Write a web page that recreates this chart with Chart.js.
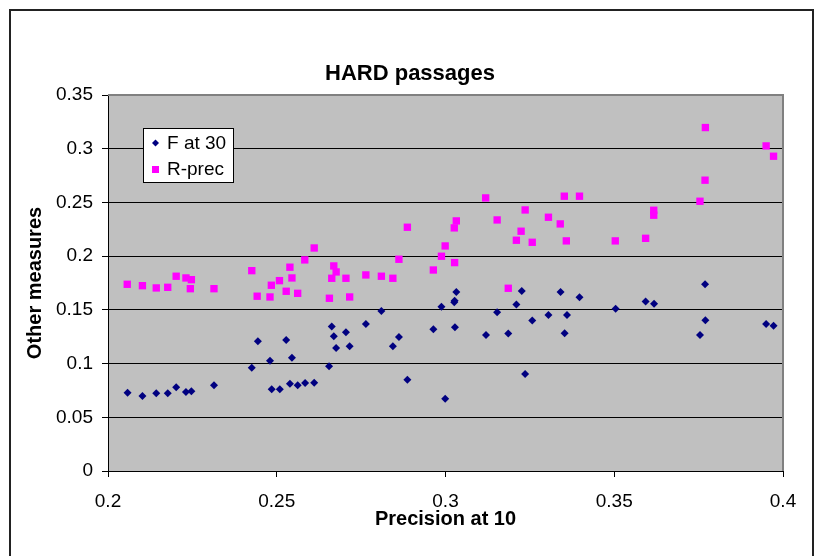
<!DOCTYPE html>
<html>
<head>
<meta charset="utf-8">
<script src="https://cdn.jsdelivr.net/npm/chart.js@4/dist/chart.umd.min.js"></script>
<style>
  html, body { margin: 0; padding: 0; background: #fff; }
  #wrap { width: 814px; height: 556px; }
</style>
</head>
<body>
<div id="wrap"><canvas id="chart" width="814" height="556"></canvas></div>
<script>
// F at 30 (x = precision at 10, y = value)
const fX = [0.2058, 0.2102, 0.2143, 0.2177, 0.2202, 0.2231, 0.2247, 0.2314, 0.2426, 0.2444,
            0.2480, 0.2485, 0.2509, 0.2528, 0.2545, 0.2539, 0.2562, 0.2584, 0.2611, 0.2655,
            0.2663, 0.2669, 0.2676, 0.2705, 0.2716, 0.2764, 0.2810, 0.2844, 0.2862, 0.2887,
            0.2964, 0.2988, 0.2999, 0.3026, 0.3027, 0.3032, 0.3028, 0.3120, 0.3153, 0.3186,
            0.3210, 0.3226, 0.3236, 0.3257, 0.3305, 0.3341, 0.3353, 0.3360, 0.3397, 0.3504,
            0.3593, 0.3618, 0.3754, 0.3770, 0.3769, 0.3950, 0.3972];
const fY = [0.0729, 0.0698, 0.0723, 0.0723, 0.0779, 0.0736, 0.0742, 0.0798, 0.0962, 0.1207,
            0.1027, 0.0760, 0.0760, 0.1220, 0.1055, 0.0813, 0.0798, 0.0819, 0.0822, 0.0975,
            0.1344, 0.1254, 0.1145, 0.1291, 0.1161, 0.1369, 0.1490, 0.1161, 0.1248, 0.0850,
            0.1319, 0.1530, 0.0673, 0.1571, 0.1585, 0.1667, 0.1338, 0.1266, 0.1477, 0.1279,
            0.1549, 0.1676, 0.0903, 0.1400, 0.1453, 0.1667, 0.1282, 0.1453, 0.1617, 0.1511,
            0.1577, 0.1558, 0.1266, 0.1403, 0.1738, 0.1369, 0.1353];

// R-prec
const rX = [0.2057, 0.2102, 0.2143, 0.2177, 0.2202, 0.2231, 0.2247, 0.2244, 0.2314, 0.2426,
            0.2442, 0.2480, 0.2484, 0.2508, 0.2528, 0.2539, 0.2545, 0.2562, 0.2583, 0.2611,
            0.2656, 0.2663, 0.2669, 0.2676, 0.2705, 0.2716, 0.2764, 0.2810, 0.2844, 0.2862,
            0.2887, 0.2964, 0.2988, 0.2999, 0.3027, 0.3026, 0.3032, 0.3119, 0.3153, 0.3186,
            0.3210, 0.3224, 0.3236, 0.3257, 0.3305, 0.3340, 0.3352, 0.3358, 0.3397, 0.3503,
            0.3593, 0.3617, 0.3617, 0.3754, 0.3769, 0.3770, 0.3950, 0.3972];
const rY = [0.1738, 0.1725, 0.1704, 0.1710, 0.1813, 0.1797, 0.1781, 0.1697, 0.1697, 0.1865,
            0.1627, 0.1620, 0.1729, 0.1772, 0.1673, 0.1897, 0.1797, 0.1654, 0.1965, 0.2076,
            0.1608, 0.1794, 0.1909, 0.1853, 0.1794, 0.1620, 0.1825, 0.1813, 0.1794, 0.1971,
            0.2269, 0.1871, 0.1999, 0.2095, 0.1940, 0.2263, 0.2328, 0.2542, 0.2337, 0.1701,
            0.2148, 0.2232, 0.2430, 0.2129, 0.2362, 0.2300, 0.2558, 0.2142, 0.2558, 0.2142,
            0.2166, 0.2427, 0.2381, 0.2511, 0.2707, 0.3197, 0.3026, 0.2930];

const xTicks = [0.2, 0.25, 0.3, 0.35, 0.4];
const yTicks = [0, 0.05, 0.1, 0.15, 0.2, 0.25, 0.3, 0.35];

const FONT = '"Liberation Sans", Arial, sans-serif';

// fond gris, cadre, titres et légende façon Excel
const excelLook = {
    id: 'excelLook',
    beforeDraw(chart) {
        const ctx = chart.ctx, a = chart.chartArea;
        ctx.save();
        ctx.fillStyle = '#fff';
        ctx.fillRect(0, 0, chart.width, chart.height);
        ctx.fillStyle = '#c0c0c0';
        ctx.fillRect(a.left, a.top, a.right - a.left, a.bottom - a.top);
        ctx.restore();
    },
    beforeDatasetsDraw(chart) {
        const ctx = chart.ctx, a = chart.chartArea;
        ctx.save();
        ctx.strokeStyle = '#808080';
        ctx.lineWidth = 2;
        ctx.beginPath();
        ctx.moveTo(a.left, a.top);
        ctx.lineTo(a.right, a.top);
        ctx.lineTo(a.right, a.bottom);
        ctx.stroke();
        ctx.restore();
    },
    afterDraw(chart) {
        const ctx = chart.ctx, a = chart.chartArea;
        ctx.save();
        // outer border
        ctx.strokeStyle = '#222';
        ctx.lineWidth = 2;
        ctx.strokeRect(10, 10, 803, 570);

        ctx.fillStyle = '#000';
        ctx.textBaseline = 'middle';
        ctx.textAlign = 'center';
        ctx.font = 'bold 22px ' + FONT;
        ctx.fillText('HARD passages', 410, 74);

        ctx.font = 'bold 20px ' + FONT;
        ctx.fillText('Precision at 10', (a.left + a.right) / 2, 519);

        ctx.save();
        ctx.translate(35, (a.top + a.bottom) / 2);
        ctx.rotate(-Math.PI / 2);
        ctx.fillText('Other measures', 0, 0);
        ctx.restore();

        // legend
        ctx.fillStyle = '#fff';
        ctx.fillRect(143, 128, 90, 54);
        ctx.strokeStyle = '#000';
        ctx.lineWidth = 1;
        ctx.strokeRect(143.5, 128.5, 90, 54);

        ctx.fillStyle = '#000080';
        ctx.beginPath();
        ctx.moveTo(155.5, 139.5);
        ctx.lineTo(159, 143);
        ctx.lineTo(155.5, 146.5);
        ctx.lineTo(152, 143);
        ctx.closePath();
        ctx.fill();
        ctx.fillStyle = '#ff00ff';
        ctx.fillRect(152, 166, 7, 7);

        ctx.fillStyle = '#000';
        ctx.textAlign = 'left';
        ctx.font = '19px ' + FONT;
        ctx.fillText('F at 30', 167, 144);
        ctx.fillText('R-prec', 167, 170);
        ctx.restore();
    }
};

new Chart(document.getElementById('chart'), {
    type: 'scatter',
    data: {
        datasets: [{
            label: 'F at 30',
            data: fX.map((x, i) => ({ x: x, y: fY[i] })),
            pointStyle: 'rectRot',
            pointRadius: 4,
            backgroundColor: '#000080',
            borderColor: '#000080',
            borderWidth: 0
        }, {
            label: 'R-prec',
            data: rX.map((x, i) => ({ x: x, y: rY[i] })),
            pointStyle: 'rect',
            pointRadius: 5.2,
            backgroundColor: '#ff00ff',
            borderColor: '#ff00ff',
            borderWidth: 0
        }]
    },
    options: {
        responsive: false,
        animation: false,
        devicePixelRatio: 1,
        layout: { padding: { left: 0, right: 31, top: 95, bottom: 0 } },
        plugins: {
            legend: { display: false },
            title: { display: false },
            tooltip: { enabled: false }
        },
        scales: {
            x: {
                type: 'linear',
                min: 0.2,
                max: 0.4,
                afterBuildTicks: s => { s.ticks = xTicks.map(v => ({ value: v })); },
                afterFit: s => { s.height = 85; },
                ticks: {
                    color: '#000',
                    font: { family: FONT, size: 19 },
                    padding: 13,
                    maxRotation: 0,
                    callback: v => String(parseFloat(v.toFixed(2)))
                },
                grid: { drawOnChartArea: false, drawTicks: true, tickLength: 6, color: '#000' },
                border: { color: '#000', width: 1 }
            },
            y: {
                type: 'linear',
                min: 0,
                max: 0.35,
                afterBuildTicks: s => { s.ticks = yTicks.map(v => ({ value: v })); },
                afterFit: s => { s.width = 108; },
                ticks: {
                    color: '#000',
                    font: { family: FONT, size: 19 },
                    padding: 9,
                    callback: v => String(parseFloat(v.toFixed(2)))
                },
                grid: { color: '#000', lineWidth: 1, tickLength: 6 },
                border: { color: '#000', width: 1 }
            }
        }
    },
    plugins: [excelLook]
});
</script>
</body>
</html>
